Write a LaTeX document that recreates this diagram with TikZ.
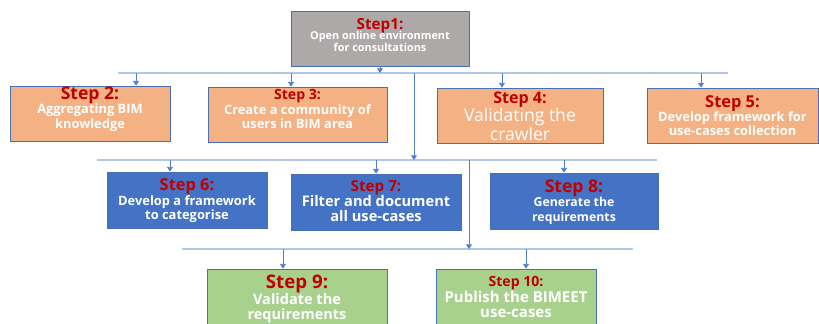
\documentclass[tikz,border=0pt]{standalone}
\usepackage{fontspec}
\setmainfont{Open Sans}
\usetikzlibrary{arrows.meta}
\definecolor{stepred}{HTML}{C00000}
\definecolor{boxgray}{HTML}{ADA9A8}
\definecolor{boxorange}{HTML}{F4B183}
\definecolor{boxblue}{HTML}{4472C4}
\definecolor{boxgreen}{HTML}{A9D18E}
\definecolor{rim}{HTML}{4A6FB5}
\definecolor{busline}{HTML}{B4C7E7}
\definecolor{feedblue}{HTML}{4F7FD0}
\newcommand{\stephead}[2]{{\fontsize{#1}{#1}\selectfont\textcolor{stepred}{#2}}}
\tikzset{
	stepbox/.style={draw=rim, line width=0.6pt, rectangle, inner sep=0pt, text=white, align=center, font=\bfseries},
	bus/.style={draw=busline, line width=1.1pt},
	feed/.style={draw=feedblue, line width=0.6pt, -{Triangle[length=4pt,width=5pt]}},
}
\begin{document}
\begin{tikzpicture}[x=0.03cm,y=-0.03cm]
	\useasboundingbox (0,0) rectangle (819,323);
	\begin{scope}
	\clip (0,0) rectangle (819,323);
	\node[stepbox, fill=boxgray, minimum width=5.34cm, minimum height=1.65cm] (s1) at (380,38.5) {};
	\node[stepbox, fill=boxorange, minimum width=4.8cm, minimum height=1.65cm] (s2) at (90,113.5) {};
	\node[stepbox, fill=boxorange, minimum width=5.37cm, minimum height=1.65cm] (s3) at (297.5,114.5) {};
	\node[stepbox, fill=boxorange, minimum width=4.98cm, minimum height=1.65cm] (s4) at (520,115.5) {};
	\node[stepbox, fill=boxorange, minimum width=5.13cm, minimum height=1.65cm] (s5) at (732.5,115.5) {};
	\node[stepbox, fill=boxblue, minimum width=4.8cm, minimum height=1.68cm] (s6) at (187,200) {};
	\node[stepbox, fill=boxblue, minimum width=5.1cm, minimum height=1.68cm] (s7) at (376,202) {};
	\node[stepbox, fill=boxblue, minimum width=5.04cm, minimum height=1.68cm] (s8) at (574,201) {};
	\node[stepbox, fill=boxgreen, minimum width=5.4cm, minimum height=1.83cm] (s9) at (297,299.5) {};
	\node[stepbox, fill=boxgreen, minimum width=4.8cm, minimum height=1.83cm] (s10) at (516,299.5) {};
	\node[stepbox, draw=none, font=\bfseries\fontsize{9.3}{9.5}\selectfont] at (380,35) {\stephead{13}{Step1:}\\[-2.5pt]Open online environment\\for consultations};
	\node[stepbox, draw=none, font=\bfseries\fontsize{11}{12.3}\selectfont] at (90,109) {\stephead{15}{Step 2:}\\Aggregating BIM\\knowledge};
	\node[stepbox, draw=none, font=\bfseries\fontsize{11}{12}\selectfont] at (297.5,109) {\stephead{12}{Step 3:}\\Create a community of\\users in BIM area};
	\node[stepbox, draw=none, font=\fontsize{15}{14.5}\selectfont] at (520,116) {\stephead{13.7}{\bfseries Step 4:}\\Validating the\\crawler};
	\node[stepbox, draw=none, font=\bfseries\fontsize{11}{12}\selectfont] at (732.5,116) {\stephead{14}{Step 5:}\\Develop framework for\\use-cases collection};
	\node[stepbox, draw=none, font=\bfseries\fontsize{11}{12.3}\selectfont] at (187,201) {\stephead{14}{Step 6:}\\Develop a framework\\to categorise};
	\node[stepbox, draw=none, font=\bfseries\fontsize{12.5}{13}\selectfont] at (376,201) {\stephead{13}{Step 7:}\\Filter and document\\all use-cases};
	\node[stepbox, draw=none, font=\bfseries\fontsize{10.5}{12.3}\selectfont] at (574,202) {\stephead{15}{Step 8:}\\Generate the\\requirements};
	\node[stepbox, draw=none, font=\bfseries\fontsize{12.4}{13.5}\selectfont] at (297,299) {\stephead{16}{Step 9:}\\Validate the\\requirements};
	\node[stepbox, draw=none, font=\bfseries\fontsize{12.8}{13.5}\selectfont] at (516,297) {\stephead{12}{Step 10:}\\Publish the BIMEET\\use-cases};
	\end{scope}
	\coordinate (b1w) at (118,73);
	\coordinate (b1e) at (728,73);
	\coordinate (b2w) at (97,160);
	\coordinate (b2e) at (657,160);
	\coordinate (b3w) at (182,249);
	\coordinate (b3e) at (633,249);
	\coordinate (d2) at (136,73);
	\coordinate (d3) at (291,73);
	\coordinate (d4) at (502,73);
	\coordinate (d5) at (701,73);
	\coordinate (d6) at (170,160);
	\coordinate (d7) at (376,160);
	\coordinate (d8) at (564,160);
	\coordinate (d9) at (283,249);
	\coordinate (d10) at (526,249);
	\coordinate (r1) at (414,73);
	\coordinate (r2) at (469,160);
	\draw[bus] (b1w) -- (b1e);
	\draw[bus] (b2w) -- (b2e);
	\draw[bus] (b3w) -- (b3e);
	\draw[feed] (s1.south) -- (s1.south |- b1w);
	\draw[feed] (d2) -- (d2 |- s2.north);
	\draw[feed] (d3) -- (d3 |- s3.north);
	\draw[feed] (d4) -- (d4 |- s4.north);
	\draw[feed] (d5) -- (d5 |- s5.north);
	\draw[feed] (r1) -- (r1 |- b2w);
	\draw[feed] (d6) -- (d6 |- s6.north);
	\draw[feed] (d7) -- (d7 |- s7.north);
	\draw[feed] (d8) -- (d8 |- s8.north);
	\draw[feed] (r2) -- (r2 |- b3w);
	\draw[feed] (d9) -- (d9 |- s9.north);
	\draw[feed] (d10) -- (d10 |- s10.north);
\end{tikzpicture}
\end{document}
